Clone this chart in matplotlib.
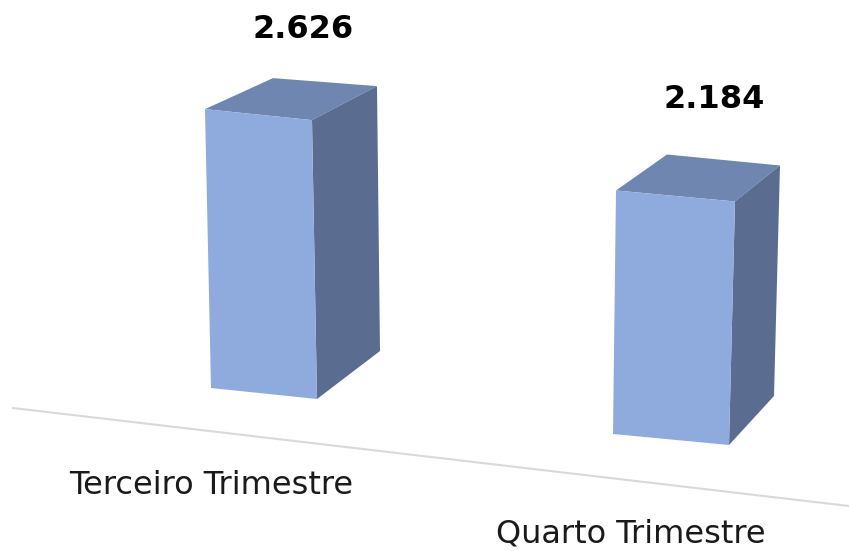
import matplotlib.pyplot as plt
from matplotlib.patches import Polygon

categories = ['Terceiro Trimestre', 'Quarto Trimestre']
values = [2626, 2184]
value_labels = ['2.626', '2.184']

# pixels per unit for each bar, the nearer bar is drawn with its own scale
scale = [0.1062, 0.1115]

# front face base: left x, left y, right x, right y
bases = [(211, 388, 317, 399), (613, 434, 729, 445)]
# lean of the vertical edges
lean = [(-6, -5), (3, 6)]
# depth offsets, the box narrows towards the top
depth_top_left = [(68, -31), (51, -36)]
depth_top_right = [(65, -34), (45, -36)]
depth_bottom = [(63, -48), (45, -49)]

front_color = '#8faadc'
top_color = '#6e86b0'
side_color = '#5a6d90'

fig = plt.figure(figsize=(8.49, 5.51), dpi=100)
ax = fig.add_axes([0, 0, 1, 1])
ax.set_xlim(0, 849)
ax.set_ylim(551, 0)
ax.axis('off')

# floor line
ax.plot([13, 849], [408, 506], color='#d9d9d9', lw=1.5, zorder=1)

for i, value in enumerate(values):
    xl, yl, xr, yr = bases[i]
    h = value * scale[i]
    tl = (xl + lean[i][0], yl - h)
    tr = (xr + lean[i][1], yr - h)
    back_l = (tl[0] + depth_top_left[i][0], tl[1] + depth_top_left[i][1])
    back_r = (tr[0] + depth_top_right[i][0], tr[1] + depth_top_right[i][1])
    back_b = (xr + depth_bottom[i][0], yr + depth_bottom[i][1])
    ax.add_patch(Polygon([(xl, yl), (xr, yr), tr, tl], fc=front_color, ec='none', zorder=3))
    ax.add_patch(Polygon([tl, tr, back_r, back_l], fc=top_color, ec='none', zorder=2))
    ax.add_patch(Polygon([(xr, yr), tr, back_r, back_b], fc=side_color, ec='none', zorder=2))

label_xy = [(303, 29), (714, 100)]
for (x, y), txt in zip(label_xy, value_labels):
    ax.text(x, y, txt, ha='center', va='center', fontsize=23, fontweight='bold', color='black')

cat_xy = [(211, 485), (631, 534)]
for (x, y), txt in zip(cat_xy, categories):
    ax.text(x, y, txt, ha='center', va='center', fontsize=23, color='#1a1a1a')

fig.savefig('out.png', dpi=100)
plt.close()
